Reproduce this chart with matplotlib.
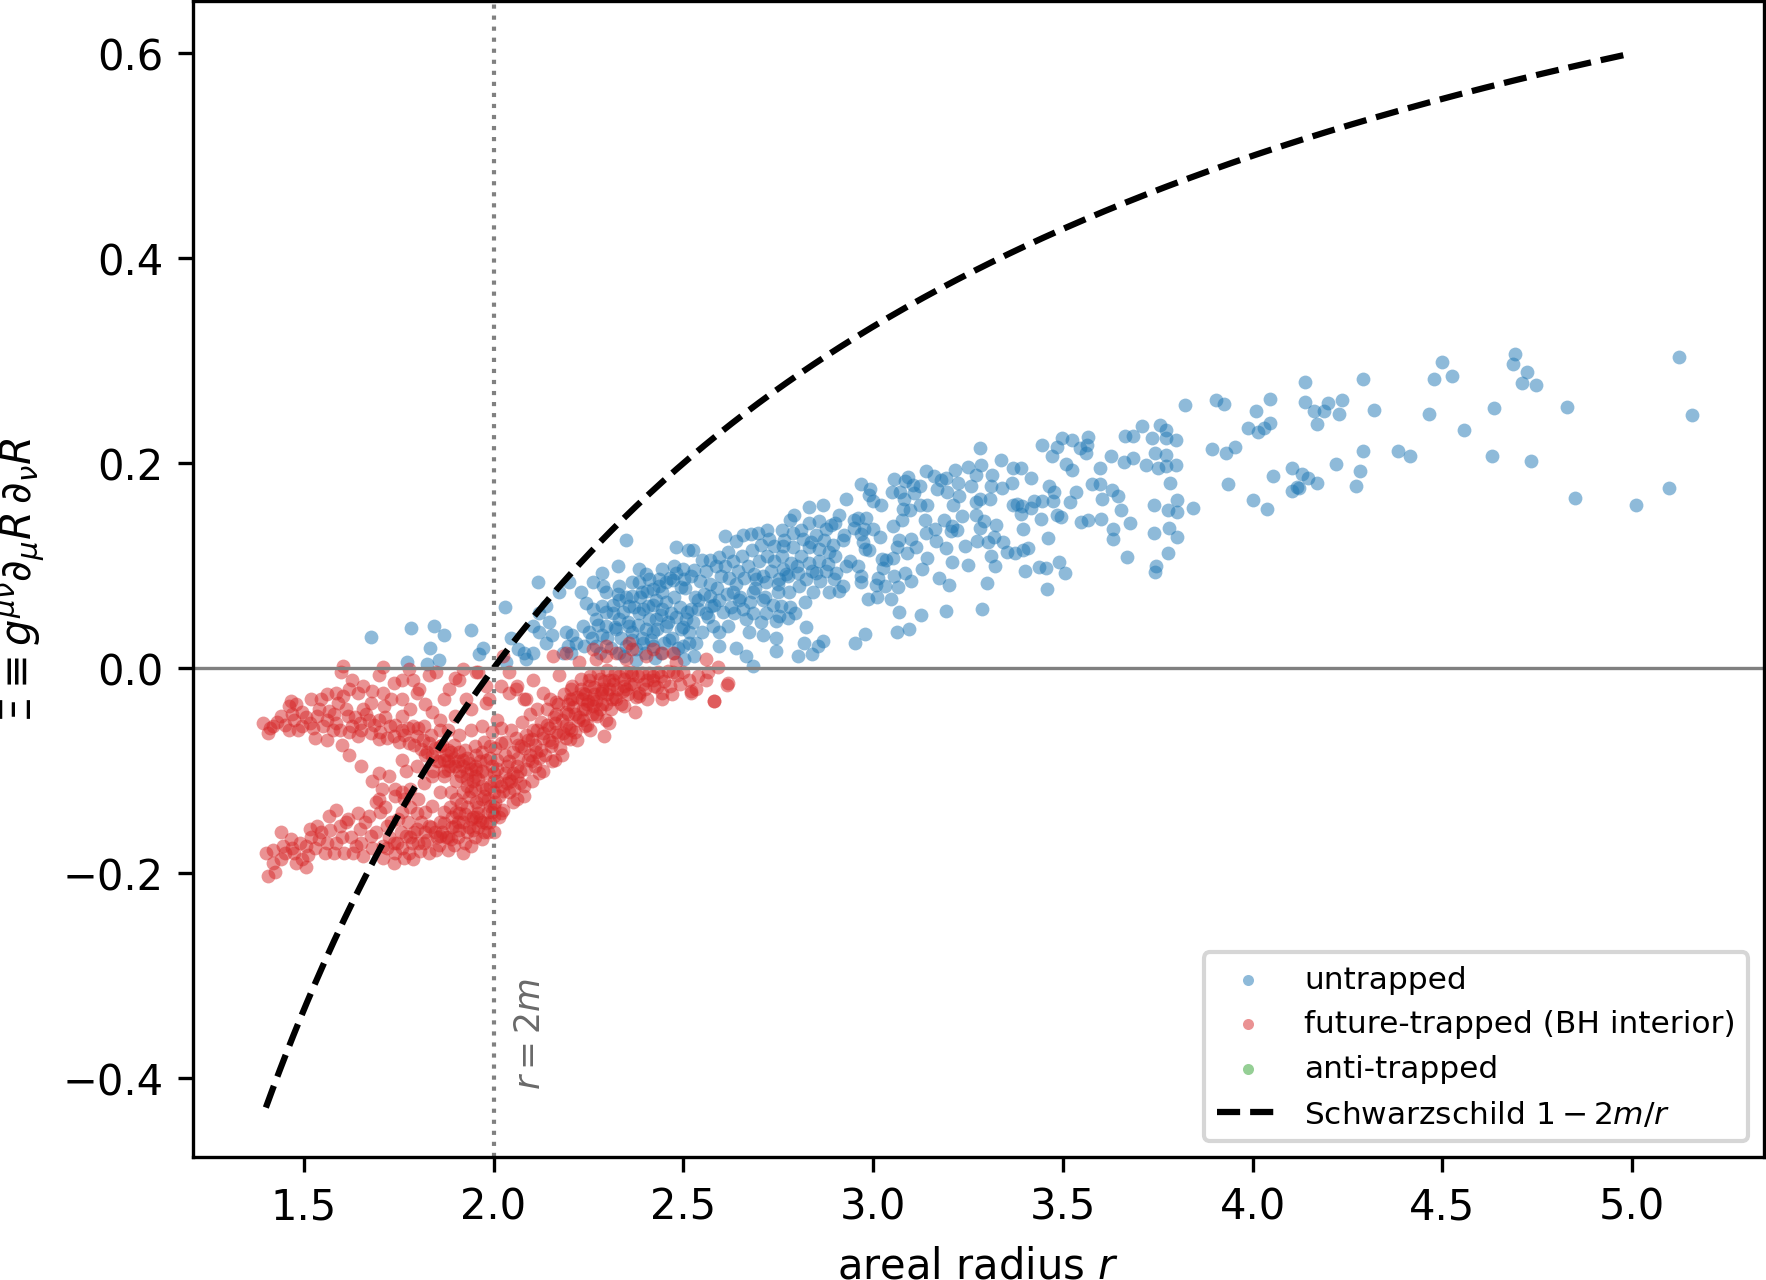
import numpy as np
import matplotlib
matplotlib.use("Agg")
import matplotlib.pyplot as plt

# ---------------- data ----------------
# untrapped points (r, Xi)
untrapped_far = [
    (4.139, 0.279), (4.291, 0.282), (4.139, 0.260), (4.162, 0.251), (4.188, 0.251), (4.198, 0.259),
    (4.235, 0.262), (4.228, 0.248), (4.169, 0.238), (4.321, 0.252), (4.498, 0.299), (4.478, 0.282),
    (4.526, 0.285), (4.464, 0.248), (4.558, 0.232), (4.635, 0.254), (4.692, 0.307), (4.685, 0.297),
    (4.722, 0.289), (4.710, 0.278), (4.746, 0.276), (4.829, 0.255), (5.123, 0.304), (5.158, 0.247),
    (4.123, 0.176), (4.131, 0.190), (4.147, 0.186), (4.170, 0.181), (4.221, 0.199), (4.291, 0.212),
    (4.283, 0.192), (4.273, 0.178), (4.383, 0.212), (4.414, 0.207), (4.630, 0.207), (4.733, 0.202),
    (4.850, 0.166), (5.011, 0.159), (5.096, 0.176),
    (3.821, 0.257), (3.903, 0.262), (3.924, 0.258), (4.009, 0.251), (4.047, 0.263), (3.987, 0.234),
    (4.015, 0.231), (4.030, 0.234), (4.045, 0.239), (3.893, 0.214), (3.930, 0.210), (3.954, 0.216),
    (3.934, 0.180), (4.053, 0.188), (4.104, 0.195), (4.103, 0.173), (4.117, 0.177), (4.001, 0.164),
    (4.039, 0.155),
]
untrapped_mid = [
    (3.708, 0.236), (3.755, 0.237), (3.771, 0.232), (3.773, 0.225), (3.797, 0.223), (3.734, 0.225),
    (3.664, 0.227), (3.685, 0.227), (3.742, 0.210), (3.771, 0.208), (3.719, 0.198), (3.750, 0.195),
    (3.771, 0.197), (3.799, 0.198), (3.783, 0.181), (3.686, 0.205), (3.661, 0.201), (3.626, 0.207),
    (3.800, 0.164), (3.777, 0.154), (3.800, 0.152), (3.739, 0.159), (3.780, 0.137), (3.801, 0.128),
    (3.740, 0.132), (3.778, 0.112), (3.745, 0.100), (3.743, 0.094), (3.843, 0.156), (3.677, 0.142),
    (3.670, 0.109), (3.633, 0.136), (3.633, 0.126), (3.654, 0.154), (3.645, 0.168), (3.629, 0.174),
    (3.599, 0.195), (3.578, 0.180), (3.597, 0.180), (3.602, 0.165), (3.600, 0.146), (3.567, 0.145),
    (3.549, 0.143), (3.535, 0.172), (3.524, 0.193), (3.509, 0.199), (3.524, 0.223), (3.497, 0.225),
    (3.565, 0.226), (3.563, 0.218), (3.546, 0.215), (3.561, 0.210), (3.484, 0.216), (3.472, 0.207),
    (3.444, 0.218), (3.416, 0.186), (3.463, 0.178), (3.477, 0.172), (3.475, 0.163), (3.445, 0.163),
    (3.424, 0.163), (3.417, 0.156), (3.393, 0.158), (3.380, 0.160), (3.391, 0.151), (3.369, 0.159),
    (3.518, 0.162), (3.484, 0.150), (3.496, 0.148), (3.443, 0.146), (3.461, 0.127), (3.394, 0.136),
    (3.409, 0.117), (3.394, 0.115), (3.374, 0.112), (3.353, 0.113), (3.343, 0.123), (3.319, 0.128),
    (3.325, 0.140), (3.341, 0.176), (3.336, 0.203), (3.368, 0.195), (3.390, 0.195), (3.367, 0.181),
    (3.310, 0.178), (3.314, 0.189), (3.312, 0.110), (3.322, 0.100), (3.299, 0.083), (3.287, 0.058),
    (3.399, 0.095), (3.438, 0.099), (3.456, 0.098), (3.490, 0.104), (3.506, 0.093), (3.458, 0.077),
]
untrapped_inner = [
    (3.281, 0.215), (3.285, 0.198), (3.251, 0.196), (3.271, 0.189), (3.258, 0.178), (3.270, 0.162),
    (3.283, 0.165), (3.307, 0.165), (3.293, 0.144), (3.282, 0.137), (3.271, 0.150), (3.302, 0.123),
    (3.273, 0.124), (3.249, 0.101), (3.241, 0.119), (3.234, 0.149), (3.211, 0.159), (3.227, 0.168),
    (3.223, 0.181), (3.216, 0.193), (3.193, 0.186), (3.180, 0.184), (3.168, 0.175), (3.194, 0.172),
    (3.187, 0.145), (3.209, 0.139), (3.205, 0.134), (3.222, 0.135), (3.191, 0.117), (3.208, 0.104),
    (3.199, 0.081), (3.191, 0.056), (3.173, 0.088), (3.166, 0.124), (3.163, 0.136), (3.139, 0.132),
    (3.136, 0.145), (3.142, 0.159), (3.124, 0.159), (3.124, 0.178), (3.139, 0.192), (3.160, 0.188),
    (3.106, 0.179), (3.109, 0.171), (3.084, 0.183), (3.093, 0.187), (3.054, 0.185), (3.051, 0.172),
    (3.072, 0.172), (3.081, 0.165), (3.079, 0.155), (3.096, 0.154), (3.075, 0.145), (3.053, 0.139),
    (3.101, 0.126), (3.069, 0.125), (3.113, 0.118), (3.090, 0.112), (3.063, 0.118), (3.052, 0.108),
    (3.035, 0.106), (3.023, 0.107), (3.026, 0.098), (3.055, 0.090), (3.083, 0.093), (3.100, 0.085),
    (3.130, 0.097), (3.143, 0.108), (3.032, 0.080), (3.009, 0.081), (3.066, 0.079), (3.014, 0.088),
    (2.990, 0.115), (2.978, 0.116), (2.973, 0.123), (2.969, 0.131), (2.976, 0.136), (2.999, 0.136),
    (3.019, 0.128), (2.949, 0.137), (2.960, 0.147), (2.982, 0.147), (2.969, 0.090), (2.969, 0.084),
    (2.987, 0.068), (3.011, 0.070), (3.047, 0.068), (3.069, 0.055), (3.125, 0.052), (3.062, 0.035),
    (3.094, 0.038), (2.978, 0.033), (2.952, 0.025), (2.967, 0.180), (2.993, 0.175), (2.989, 0.169),
    (3.000, 0.163), (3.020, 0.159),
]
untrapped_core = [
    (2.349, 0.125), (2.481, 0.118), (2.512, 0.115), (2.525, 0.115), (2.476, 0.100), (2.482, 0.093),
    (2.474, 0.086), (2.498, 0.097), (2.501, 0.087), (2.494, 0.079), (2.529, 0.096), (2.548, 0.106),
    (2.569, 0.106), (2.595, 0.109), (2.617, 0.113), (2.611, 0.129), (2.639, 0.124), (2.656, 0.130),
    (2.678, 0.131), (2.697, 0.132), (2.721, 0.135), (2.759, 0.135), (2.788, 0.132), (2.781, 0.145),
    (2.791, 0.150), (2.832, 0.157), (2.867, 0.159), (2.831, 0.142), (2.858, 0.144), (2.876, 0.136),
    (2.900, 0.142), (2.929, 0.165), (2.909, 0.150), (2.924, 0.130), (2.816, 0.126), (2.727, 0.126),
    (2.740, 0.119), (2.762, 0.119), (2.837, 0.123), (2.858, 0.116), (2.894, 0.120), (2.885, 0.113),
    (2.858, 0.105), (2.832, 0.103), (2.810, 0.110), (2.784, 0.103), (2.762, 0.097), (2.753, 0.087),
    (2.775, 0.090), (2.801, 0.093), (2.823, 0.087), (2.850, 0.093), (2.876, 0.095), (2.902, 0.093),
    (2.929, 0.100), (2.898, 0.087), (2.920, 0.080), (2.885, 0.074), (2.841, 0.074), (2.806, 0.080),
    (2.779, 0.074), (2.749, 0.074), (2.718, 0.084), (2.692, 0.087), (2.683, 0.074), (2.709, 0.067),
    (2.758, 0.061), (2.793, 0.054), (2.753, 0.051), (2.718, 0.054), (2.683, 0.054), (2.656, 0.058),
    (2.648, 0.067), (2.630, 0.074), (2.634, 0.054), (2.665, 0.048), (2.705, 0.045), (2.744, 0.046),
    (2.775, 0.049), (2.823, 0.040), (2.744, 0.030), (2.709, 0.032), (2.674, 0.035), (2.639, 0.020),
    (2.665, 0.012), (2.683, 0.002), (2.744, 0.017), (2.801, 0.012), (2.839, 0.014), (2.819, 0.025),
    (2.854, 0.022), (2.869, 0.027),
]
untrapped_low = [
    (2.595, 0.022), (2.595, 0.035), (2.617, 0.041), (2.577, 0.041), (2.560, 0.054), (2.573, 0.061),
    (2.595, 0.067), (2.569, 0.071), (2.538, 0.067), (2.520, 0.058), (2.507, 0.048), (2.494, 0.038),
    (2.516, 0.035), (2.533, 0.025), (2.498, 0.022), (2.476, 0.015), (2.529, 0.012), (2.503, 0.009),
    (2.463, 0.028), (2.454, 0.041), (2.468, 0.054), (2.445, 0.058), (2.428, 0.048), (2.419, 0.035),
    (2.402, 0.038), (2.393, 0.025), (2.419, 0.022), (2.441, 0.015), (2.375, 0.019), (2.366, 0.028),
    (2.349, 0.022), (2.331, 0.015), (2.358, 0.041), (2.384, 0.054), (2.406, 0.061), (2.428, 0.067),
    (2.419, 0.077), (2.445, 0.074), (2.454, 0.084), (2.437, 0.087), (2.410, 0.087), (2.384, 0.084),
    (2.391, 0.074), (2.366, 0.071), (2.358, 0.061), (2.331, 0.067), (2.314, 0.054), (2.331, 0.048),
    (2.323, 0.038), (2.296, 0.041), (2.287, 0.032), (2.270, 0.022), (2.252, 0.035), (2.270, 0.048),
    (2.261, 0.058), (2.287, 0.061), (2.296, 0.074), (2.327, 0.072), (2.402, 0.092), (2.445, 0.097),
    (2.384, 0.097), (2.366, 0.084), (2.331, 0.080), (2.261, 0.084), (2.230, 0.074), (2.244, 0.064),
    (2.235, 0.041), (2.208, 0.032), (2.191, 0.035), (2.217, 0.025), (2.239, 0.022), (2.195, 0.022),
    (2.182, 0.015), (2.204, 0.015), (2.155, 0.032), (2.138, 0.025), (2.120, 0.035), (2.147, 0.045),
    (2.120, 0.054), (2.116, 0.084), (2.200, 0.084), (2.173, 0.074), (2.138, 0.061), (2.103, 0.041),
    (2.081, 0.015), (2.103, 0.015), (2.085, 0.009), (2.064, 0.019), (2.046, 0.030), (2.033, 0.006),
    (2.030, 0.060), (1.971, 0.020), (1.962, 0.014), (1.940, 0.037), (1.870, 0.032), (1.844, 0.041),
    (1.832, 0.020), (1.857, 0.008), (1.782, 0.039), (1.824, 0.004), (1.772, 0.006), (2.289, 0.080),
    (2.327, 0.100), (2.287, 0.093), (1.676, 0.031),
]
untrapped_dense = [
    (2.260, 0.030), (2.275, 0.042), (2.280, 0.015), (2.295, 0.055), (2.300, 0.030), (2.310, 0.020),
    (2.315, 0.062), (2.320, 0.040), (2.335, 0.030), (2.340, 0.055), (2.345, 0.012), (2.350, 0.070),
    (2.355, 0.045), (2.365, 0.035), (2.370, 0.060), (2.375, 0.008), (2.380, 0.042), (2.385, 0.070),
    (2.390, 0.030), (2.395, 0.058), (2.400, 0.015), (2.405, 0.075), (2.410, 0.048), (2.415, 0.028),
    (2.420, 0.062), (2.425, 0.010), (2.430, 0.038), (2.435, 0.080), (2.440, 0.052), (2.450, 0.025),
    (2.455, 0.065), (2.460, 0.045), (2.465, 0.088), (2.470, 0.030), (2.475, 0.070), (2.480, 0.050),
    (2.485, 0.020), (2.490, 0.060), (2.500, 0.040), (2.505, 0.078), (2.510, 0.055), (2.515, 0.025),
    (2.520, 0.090), (2.525, 0.045), (2.530, 0.070), (2.540, 0.058), (2.545, 0.085), (2.550, 0.035),
    (2.555, 0.072), (2.560, 0.095), (2.565, 0.050), (2.570, 0.082), (2.580, 0.062), (2.585, 0.100),
    (2.590, 0.078), (2.600, 0.090), (2.605, 0.055), (2.610, 0.100), (2.615, 0.072), (2.620, 0.088),
    (2.625, 0.060), (2.630, 0.105), (2.640, 0.082), (2.645, 0.095), (2.650, 0.070), (2.655, 0.110),
    (2.660, 0.088), (2.670, 0.100), (2.675, 0.065), (2.680, 0.115), (2.685, 0.092), (2.690, 0.078),
    (2.700, 0.105), (2.705, 0.120), (2.710, 0.090), (2.715, 0.070), (2.720, 0.110), (2.730, 0.095),
    (2.735, 0.062), (2.740, 0.105), (2.750, 0.082), (2.760, 0.110), (2.765, 0.125), (2.770, 0.092),
    (2.780, 0.060), (2.790, 0.118), (2.800, 0.100), (2.810, 0.135), (2.820, 0.065), (2.830, 0.118),
    (2.840, 0.095), (2.850, 0.130), (2.860, 0.085), (2.870, 0.125), (2.880, 0.102), (2.890, 0.140),
    (2.900, 0.110), (2.910, 0.075), (2.920, 0.125), (2.940, 0.105), (2.950, 0.145), (2.960, 0.100),
]

# future-trapped points (r, Xi)
trapped_upper_arm = [
    (1.393, -0.053), (1.405, -0.063), (1.420, -0.056), (1.440, -0.047), (1.460, -0.037), (1.465, -0.032),
    (1.460, -0.060), (1.475, -0.050), (1.495, -0.043), (1.495, -0.056), (1.516, -0.053), (1.536, -0.047),
    (1.546, -0.030), (1.551, -0.056), (1.566, -0.042), (1.576, -0.060), (1.586, -0.053), (1.591, -0.034),
    (1.602, -0.027), (1.617, -0.047), (1.627, -0.056), (1.642, -0.066), (1.647, -0.053), (1.642, -0.024),
    (1.657, -0.040), (1.672, -0.050), (1.677, -0.063), (1.697, -0.069), (1.697, -0.050), (1.712, -0.037),
    (1.728, -0.056), (1.738, -0.066), (1.758, -0.060), (1.758, -0.047), (1.778, -0.073), (1.788, -0.056),
    (1.798, -0.066), (1.808, -0.079), (1.818, -0.056), (1.829, -0.073), (1.839, -0.086), (1.859, -0.076),
    (1.869, -0.089), (1.889, -0.082), (1.899, -0.095), (1.919, -0.089), (1.929, -0.102), (1.950, -0.095),
    (1.960, -0.108), (1.980, -0.102), (1.990, -0.115),
    (1.410, -0.058), (1.430, -0.052), (1.450, -0.055), (1.470, -0.045), (1.485, -0.060), (1.505, -0.048),
    (1.525, -0.058), (1.540, -0.040), (1.560, -0.050), (1.580, -0.045), (1.595, -0.060), (1.610, -0.040),
    (1.620, -0.062), (1.635, -0.048), (1.650, -0.060), (1.665, -0.045), (1.685, -0.055), (1.700, -0.062),
    (1.715, -0.048), (1.720, -0.068), (1.740, -0.055), (1.750, -0.072), (1.765, -0.065), (1.775, -0.058),
    (1.790, -0.075), (1.800, -0.058), (1.815, -0.070), (1.825, -0.082), (1.835, -0.065), (1.845, -0.078),
    (1.855, -0.090), (1.865, -0.075), (1.875, -0.085), (1.885, -0.095), (1.895, -0.075), (1.905, -0.090),
    (1.915, -0.105), (1.925, -0.080), (1.935, -0.092), (1.945, -0.110), (1.955, -0.098),
]
trapped_between = [
    (1.680, -0.110), (1.705, -0.118), (1.725, -0.105), (1.740, -0.118), (1.765, -0.128), (1.690, -0.130),
    (1.715, -0.135), (1.780, -0.118), (1.800, -0.128), (1.770, -0.100), (1.650, -0.095), (1.620, -0.085),
    (1.600, -0.075), (1.560, -0.070), (1.530, -0.068), (1.480, -0.035), (1.520, -0.030), (1.560, -0.025),
    (1.620, -0.020), (1.680, -0.022), (1.730, -0.030), (1.780, -0.040), (1.820, -0.035), (1.860, -0.050),
    (1.880, -0.060), (1.910, -0.065), (1.940, -0.060), (1.860, -0.060),
]
trapped_top = [
    (1.602, 0.002), (1.597, -0.004), (1.708, 0.001), (1.697, -0.007), (1.627, -0.011), (1.657, -0.017),
    (1.738, -0.014), (1.788, -0.011), (1.829, -0.007), (1.899, -0.009), (1.919, -0.001), (1.960, -0.004),
    (1.586, -0.024), (1.708, -0.024), (1.798, -0.024), (1.869, -0.030), (1.758, -0.030), (1.677, -0.034),
    (1.839, -0.043), (1.899, -0.047), (1.940, -0.040), (1.980, -0.034), (1.970, -0.056), (2.010, -0.050),
    (2.040, -0.024), (2.061, -0.017), (2.020, -0.017), (2.081, -0.030),
]
trapped_lower_arm = [
    (1.400, -0.180), (1.405, -0.203), (1.425, -0.199), (1.420, -0.177), (1.440, -0.186), (1.445, -0.173),
    (1.440, -0.160), (1.465, -0.167), (1.475, -0.180), (1.495, -0.186), (1.505, -0.173), (1.516, -0.157),
    (1.505, -0.194), (1.536, -0.154), (1.541, -0.167), (1.556, -0.180), (1.566, -0.144), (1.586, -0.138),
    (1.596, -0.154), (1.586, -0.170), (1.607, -0.180), (1.617, -0.147), (1.642, -0.141), (1.647, -0.157),
    (1.637, -0.173), (1.657, -0.183), (1.672, -0.144), (1.677, -0.164), (1.697, -0.128), (1.697, -0.102),
    (1.708, -0.173), (1.718, -0.154), (1.738, -0.190), (1.738, -0.170), (1.748, -0.147), (1.758, -0.121),
    (1.768, -0.164), (1.778, -0.180), (1.798, -0.157), (1.798, -0.141), (1.818, -0.170), (1.829, -0.154),
    (1.839, -0.134), (1.849, -0.177), (1.859, -0.164), (1.869, -0.151), (1.889, -0.167), (1.899, -0.154),
    (1.909, -0.141), (1.929, -0.160), (1.940, -0.147), (1.960, -0.141), (1.970, -0.128), (1.980, -0.151),
    (1.990, -0.134), (2.000, -0.121), (1.859, -0.121), (1.889, -0.121), (1.919, -0.121), (1.929, -0.108),
    (1.869, -0.105), (1.818, -0.112), (1.758, -0.089), (1.798, -0.095), (1.839, -0.105), (1.879, -0.099),
    (1.788, -0.186), (2.000, -0.160), (1.970, -0.167), (1.940, -0.173), (1.919, -0.180), (1.879, -0.177),
    (2.000, -0.144),
    (1.420, -0.190), (1.450, -0.180), (1.470, -0.175), (1.480, -0.190), (1.490, -0.170), (1.510, -0.182),
    (1.520, -0.165), (1.530, -0.175), (1.545, -0.160), (1.560, -0.170), (1.570, -0.158), (1.580, -0.180),
    (1.600, -0.165), (1.610, -0.150), (1.625, -0.165), (1.630, -0.180), (1.650, -0.170), (1.660, -0.150),
    (1.680, -0.175), (1.690, -0.160), (1.700, -0.140), (1.710, -0.185), (1.725, -0.165), (1.730, -0.150),
    (1.745, -0.170), (1.755, -0.160), (1.765, -0.185), (1.775, -0.150), (1.785, -0.170), (1.790, -0.160),
    (1.805, -0.178), (1.810, -0.150), (1.825, -0.168), (1.830, -0.180), (1.845, -0.160), (1.855, -0.172),
    (1.865, -0.160), (1.870, -0.140), (1.880, -0.165), (1.895, -0.172), (1.900, -0.140), (1.910, -0.158),
    (1.925, -0.170), (1.935, -0.155), (1.950, -0.165), (1.955, -0.145), (1.970, -0.150), (1.985, -0.160),
    (1.995, -0.140), (1.820, -0.140), (1.780, -0.135), (1.760, -0.140), (1.740, -0.125),
]
trapped_core = [
    (1.950, -0.076), (1.970, -0.082), (1.990, -0.076), (2.010, -0.089), (2.020, -0.073), (2.030, -0.102),
    (2.050, -0.082), (2.020, -0.115), (2.000, -0.102), (2.040, -0.121), (1.980, -0.089), (2.061, -0.095),
    (2.071, -0.076), (2.091, -0.089), (2.101, -0.069), (2.111, -0.082), (2.131, -0.063), (2.151, -0.076),
    (2.161, -0.053), (2.182, -0.063), (2.192, -0.043), (2.202, -0.030), (2.222, -0.050), (2.232, -0.030),
    (2.252, -0.017), (2.262, -0.037), (2.282, -0.024), (2.303, -0.011), (2.313, -0.030), (2.343, -0.017),
    (2.363, -0.004), (2.383, -0.024), (2.403, -0.011), (2.433, -0.004), (2.464, -0.017), (2.484, -0.007),
    (2.519, -0.024), (2.565, -0.004), (2.580, -0.032), (2.615, -0.016), (2.303, -0.053), (2.242, -0.056),
    (2.161, -0.089), (2.121, -0.102), (2.081, -0.115), (2.061, -0.128), (2.020, -0.141), (2.040, -0.108),
    (2.202, -0.069), (2.242, -0.040), (2.343, -0.037), (2.423, -0.017), (2.444, -0.030), (2.403, -0.030),
    (2.373, -0.043), (2.292, -0.066), (2.272, -0.047), (2.061, -0.105),
]
trapped_band = [
    (2.030, -0.085), (2.045, -0.110), (2.050, -0.130), (2.065, -0.075), (2.070, -0.100), (2.080, -0.125),
    (2.085, -0.065), (2.095, -0.085), (2.100, -0.110), (2.110, -0.095), (2.115, -0.060), (2.125, -0.080),
    (2.130, -0.100), (2.140, -0.055), (2.145, -0.070), (2.155, -0.090), (2.165, -0.045), (2.170, -0.065),
    (2.180, -0.085), (2.190, -0.055), (2.195, -0.035), (2.205, -0.060), (2.215, -0.045), (2.220, -0.070),
    (2.230, -0.020), (2.235, -0.050), (2.245, -0.035), (2.255, -0.060), (2.265, -0.025), (2.270, -0.045),
    (2.280, -0.010), (2.285, -0.035), (2.295, -0.050), (2.300, -0.025), (2.310, -0.040), (2.320, -0.005),
    (2.325, -0.020), (2.335, -0.035), (2.345, -0.010), (2.355, -0.025), (2.370, -0.015), (2.390, -0.005),
    (2.400, -0.020), (2.420, -0.008), (2.450, -0.012), (2.470, -0.025),
    (1.940, -0.120), (1.955, -0.130), (1.965, -0.090), (1.975, -0.125), (1.985, -0.140), (1.995, -0.095),
    (2.005, -0.130), (2.010, -0.110), (2.015, -0.145), (2.025, -0.120), (2.035, -0.095), (1.930, -0.135),
    (1.945, -0.145), (1.960, -0.155), (1.975, -0.160), (1.990, -0.150), (1.920, -0.150), (1.905, -0.165),
    (1.890, -0.155), (1.875, -0.165), (1.860, -0.150), (1.850, -0.165), (1.835, -0.155), (1.820, -0.160),
    (1.800, -0.170), (1.780, -0.165), (1.760, -0.175), (1.740, -0.180), (1.720, -0.175), (1.930, -0.115),
    (1.950, -0.105), (1.970, -0.115), (1.910, -0.100), (1.880, -0.090), (1.900, -0.110), (1.870, -0.100),
    (1.850, -0.090), (1.840, -0.100), (1.820, -0.085),
]
trapped_dense = [
    (1.880, -0.080), (1.885, -0.135), (1.890, -0.145), (1.895, -0.088), (1.900, -0.128), (1.905, -0.150),
    (1.910, -0.082), (1.915, -0.132), (1.920, -0.095), (1.925, -0.142), (1.930, -0.088), (1.935, -0.126),
    (1.940, -0.098), (1.945, -0.158), (1.950, -0.118), (1.955, -0.085), (1.960, -0.135), (1.965, -0.148),
    (1.970, -0.100), (1.975, -0.072), (1.980, -0.118), (1.985, -0.128), (1.990, -0.088), (1.995, -0.062),
    (2.000, -0.110), (2.000, -0.135), (2.005, -0.078), (2.010, -0.098), (2.015, -0.125), (2.020, -0.058),
    (2.025, -0.138), (2.030, -0.072), (2.035, -0.112), (2.040, -0.090), (2.045, -0.060), (2.050, -0.102),
    (2.055, -0.118), (2.060, -0.068), (2.065, -0.088), (2.070, -0.112), (2.075, -0.052), (2.080, -0.078),
    (2.085, -0.098), (2.090, -0.070), (2.095, -0.045), (2.100, -0.090), (2.105, -0.060), (2.110, -0.075),
    (2.115, -0.040), (2.120, -0.088), (2.125, -0.052), (2.130, -0.068), (2.135, -0.085), (2.140, -0.040),
    (2.145, -0.058), (2.150, -0.030), (2.155, -0.072), (2.160, -0.048), (2.165, -0.062), (2.170, -0.035),
    (2.175, -0.078), (2.180, -0.050), (2.185, -0.025), (2.190, -0.068), (2.195, -0.045), (2.200, -0.058),
    (2.205, -0.020), (2.210, -0.038), (2.215, -0.062), (2.220, -0.028), (2.225, -0.048), (2.230, -0.010),
    (2.235, -0.040), (2.240, -0.025), (2.245, -0.055), (2.250, -0.032), (2.255, -0.008), (2.260, -0.045),
    (2.265, -0.018), (2.270, -0.032), (2.275, -0.005), (2.280, -0.040), (2.285, -0.022), (2.290, -0.012),
    (2.295, -0.035), (2.300, -0.002), (2.305, -0.020), (2.315, -0.015), (2.320, -0.028), (2.330, -0.008),
    (2.340, -0.022), (2.350, -0.004), (2.360, -0.015), (2.375, -0.028), (2.380, -0.008), (2.395, -0.015),
    (2.410, -0.005), (2.430, -0.018), (2.440, -0.008), (2.460, -0.003), (2.490, -0.015), (2.500, -0.004),
    (2.540, -0.008),
]
trapped_near_zero = [
    (2.358, 0.025), (2.366, 0.019), (2.261, 0.019), (2.270, 0.009), (2.296, 0.012), (2.323, 0.015),
    (2.349, 0.009), (2.402, 0.012), (2.419, 0.019), (2.445, 0.015), (2.472, 0.015), (2.481, 0.006),
    (2.296, 0.022), (2.156, 0.012), (2.191, 0.015), (2.226, 0.006), (2.560, 0.009), (2.591, 0.001),
    (2.024, 0.012),
    (1.778, -0.001), (1.760, -0.011), (1.804, -0.020), (1.848, -0.004), (1.883, -0.020), (1.910, -0.011),
    (1.928, -0.030), (1.953, -0.004), (1.980, -0.017), (1.989, -0.030), (2.041, -0.004), (2.059, -0.020),
    (2.085, -0.030), (2.103, -0.011), (2.129, -0.024), (2.164, -0.033), (2.173, -0.007), (2.208, -0.017),
    (2.208, -0.030), (2.235, -0.024), (2.252, -0.011), (2.261, -0.030), (2.287, -0.020), (2.314, -0.011),
    (2.323, -0.030), (2.349, -0.020), (2.366, -0.007), (2.384, -0.027), (2.419, -0.011), (2.445, -0.024),
    (2.472, -0.004), (2.516, -0.011), (2.533, -0.020), (2.560, -0.011), (2.617, -0.014), (2.520, -0.022),
    (2.582, -0.032),
]

# anti-trapped: no points in the reference
antitrapped = []

# Schwarzschild reference curve 1 - 2m/r
mass = 1.0
r_curve_min, r_curve_max = 1.4, 5.0

# ---------------- plotting ----------------
def split(groups):
    pts = [p for g in groups for p in g]
    if not pts:
        return np.array([]), np.array([])
    a = np.array(pts, dtype=float)
    return a[:, 0], a[:, 1]

r_u, xi_u = split([untrapped_far, untrapped_mid, untrapped_inner, untrapped_core, untrapped_low,
                   untrapped_dense])
r_t, xi_t = split([trapped_upper_arm, trapped_between, trapped_top, trapped_lower_arm, trapped_core,
                   trapped_band, trapped_dense, trapped_near_zero])
r_a, xi_a = split([antitrapped])

fig = plt.figure(figsize=(1766 / 300, 1281 / 300), dpi=300)
ax = fig.add_axes([0.10906, 0.09617, 0.8897, 0.9021])

ms = 11
ax.scatter(r_u, xi_u, s=ms, color="tab:blue", alpha=0.5, linewidths=0, label="untrapped")
ax.scatter(r_t, xi_t, s=ms, color="tab:red", alpha=0.5, linewidths=0, label="future-trapped (BH interior)")
ax.scatter(r_a, xi_a, s=ms, color="tab:green", alpha=0.5, linewidths=0, label="anti-trapped")

r_line = np.linspace(r_curve_min, r_curve_max, 400)
ax.plot(r_line, 1 - 2 * mass / r_line, "k--", lw=1.5, label=r"Schwarzschild $1-2m/r$")

ax.axhline(0, color="gray", lw=0.8)
ax.axvline(2 * mass, color="gray", lw=1, ls=":")
ax.text(2.05, -0.41, r"$r=2m$", rotation=90, color="dimgray", fontsize=8.3, ha="left", va="bottom")

ax.set_xlim(1.207, 5.347)
ax.set_ylim(-0.4766, 0.6508)
ax.set_xticks([1.5, 2.0, 2.5, 3.0, 3.5, 4.0, 4.5, 5.0])
ax.set_yticks([-0.4, -0.2, 0.0, 0.2, 0.4, 0.6])
ax.set_xlabel(r"areal radius $r$")
ax.set_ylabel(r"$\Xi \equiv g^{\mu\nu}\partial_\mu R\,\partial_\nu R$")
ax.legend(loc="lower right", fontsize=7.5, markerscale=0.8)

fig.savefig("out.png", dpi=300)
